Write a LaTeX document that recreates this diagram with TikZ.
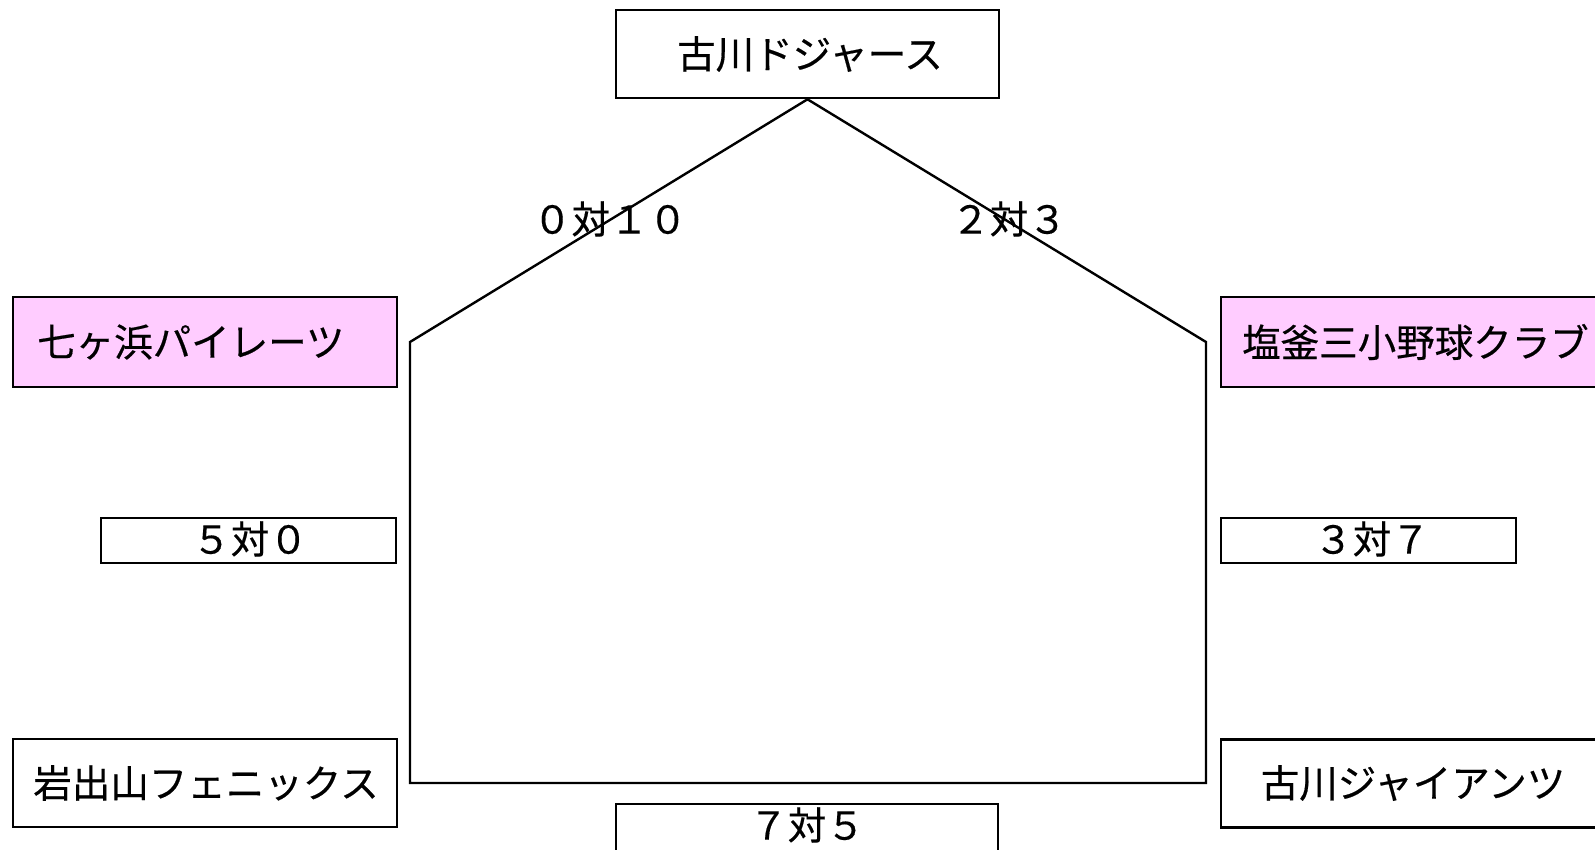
\documentclass[tikz,border=0pt]{standalone}
\usepackage{fontspec}
\newfontfamily\jpfont[FakeBold=0.4]{Noto Sans CJK JP}
\definecolor{pinkbox}{HTML}{FFCCFF}
\tikzset{
  box/.style={draw=black, line width=2.6pt, fill=white, inner sep=0pt},
  pinkteam/.style={box, fill=pinkbox},
  txt/.style={font=\jpfont\fontsize{38.5}{42}\selectfont, inner sep=0pt, text=black},
  link/.style={draw=black, line width=2.4pt, line join=miter}
}
\begin{document}
\begin{tikzpicture}[x=1pt, y=-1pt]
\useasboundingbox (0,0) rectangle (1595,850);
\clip (0,0) rectangle (1595,850);
% boxes
\node[box, minimum width=383pt, minimum height=88pt] (top) at (807.5,54) {};
\node[pinkteam, minimum width=384pt, minimum height=90pt] (L1) at (205,342) {};
\node[pinkteam, minimum width=386pt, minimum height=90pt] (R1) at (1414,342) {};
\node[box, minimum width=384pt, minimum height=88pt] (L2) at (205,783) {};
\node[box, minimum width=386pt, minimum height=88pt] (R2) at (1414,783.5) {};
\node[box, minimum width=295pt, minimum height=45pt] (SL) at (248.5,540.5) {};
\node[box, minimum width=295pt, minimum height=45pt] (SR) at (1368.5,540.5) {};
\node[box, minimum width=382pt, minimum height=60pt] (SB) at (807,834) {};
% texts
\node[txt] (ttop) at (810,54) {古川ドジャース};
\node[txt, anchor=west] (tL1) at (37,342) {七ヶ浜パイレーツ};
\node[txt, anchor=west] (tR1) at (1242,342) {塩釜三小野球クラブ};
\node[txt] (tL2) at (206,783) {岩出山フェニックス};
\node[txt] (tR2) at (1413,783) {古川ジャイアンツ};
\node[txt] (sL) at (250,539) {５対０};
\node[txt] (sR) at (1372,539) {３対７};
\node[txt] (sB) at (807,825) {７対５};
% bracket
\coordinate (apex) at (top.south);
\coordinate (lt) at (410,342);
\coordinate (lb) at (410,783);
\coordinate (rb) at (1206,783);
\coordinate (rt) at (1206,342);
\draw[link] (lt) -- (apex) -- (rt) -- (rb) -- (lb) -- cycle;
% scores on upper lines
\node[txt] (s1) at (610,219) {０対１０};
\node[txt] (s2) at (1009,219) {２対３};
\end{tikzpicture}
\end{document}
